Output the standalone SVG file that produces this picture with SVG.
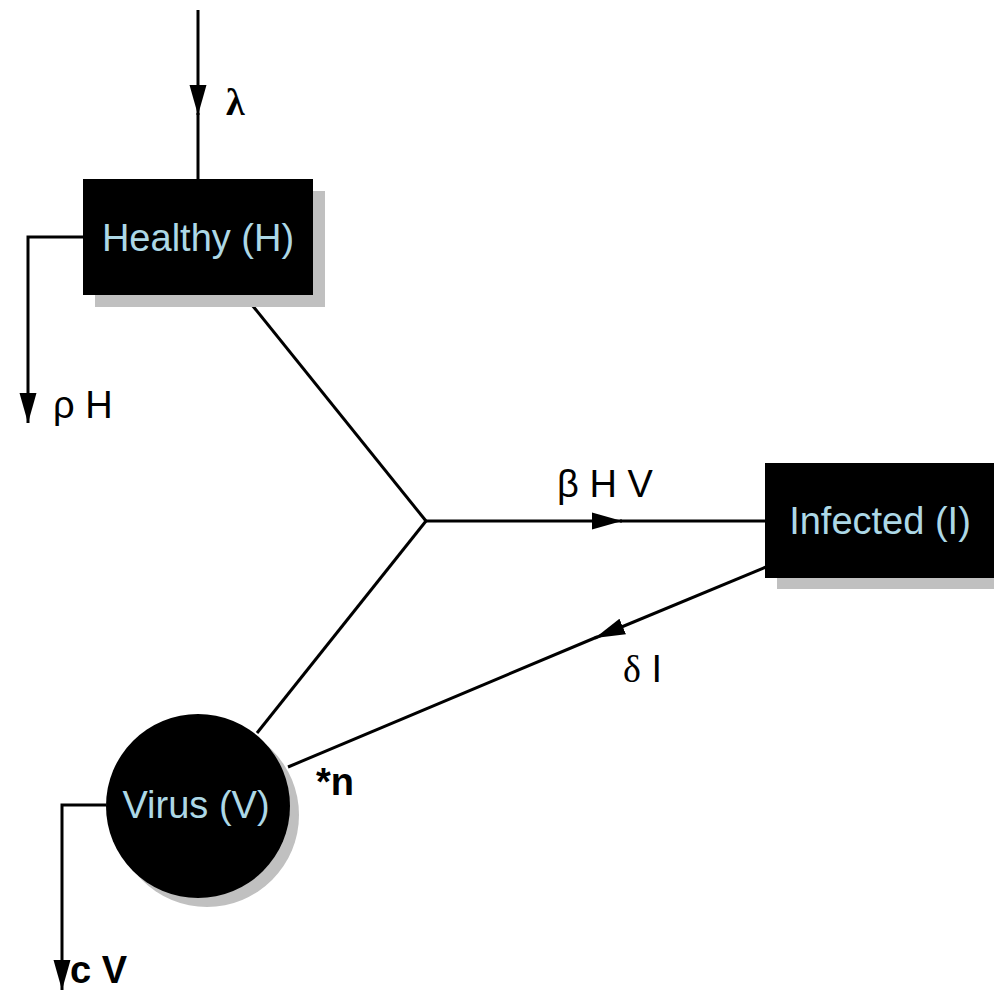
<svg xmlns="http://www.w3.org/2000/svg" width="994" height="990" viewBox="0 0 994 990">
<style>
.ln{fill:none;stroke:#000;stroke-width:3}
.box{fill:#000}
.sh{fill:#c0c0c0}
.nl{font-family:"Liberation Sans",Arial,sans-serif;font-size:38px;fill:#add8e6;text-anchor:middle}
.lb{font-family:"Liberation Sans",Arial,sans-serif;font-size:38px;fill:#000}
.gr{font-family:"Liberation Serif","Times New Roman",serif}
</style>
<defs>
<marker id="ah" markerUnits="userSpaceOnUse" markerWidth="32" markerHeight="20" refX="30" refY="9" orient="auto">
<path d="M0,0.5 L30,9 L0,17.5 Z" fill="#000"/>
</marker>
</defs>
<g id="connectors">
<line class="ln" x1="198" y1="10" x2="198" y2="115" marker-end="url(#ah)"/>
<line class="ln" x1="198" y1="113" x2="198" y2="180"/>
<path class="ln" d="M84,237 H28 V423" marker-end="url(#ah)"/>
<line class="ln" x1="252" y1="305" x2="426" y2="521"/>
<line class="ln" x1="426" y1="521" x2="257" y2="733"/>
<line class="ln" x1="425" y1="521" x2="622" y2="521" marker-end="url(#ah)"/>
<line class="ln" x1="620" y1="521" x2="766" y2="521"/>
<line class="ln" x1="766" y1="567" x2="595" y2="638" marker-end="url(#ah)"/>
<line class="ln" x1="597" y1="637" x2="288" y2="767"/>
<path class="ln" d="M106,805 H62 V990" marker-end="url(#ah)"/>
</g>
<g id="healthy">
<rect class="sh" x="95" y="191" width="230" height="116"/>
<rect class="box" x="83" y="179" width="230" height="116"/>
<text class="nl" x="198" y="251">Healthy (H)</text>
</g>
<g id="infected">
<rect class="sh" x="777" y="474" width="230" height="115"/>
<rect class="box" x="765" y="463" width="230" height="115"/>
<text class="nl" x="880" y="534">Infected (I)</text>
</g>
<g id="virus">
<circle class="sh" cx="207" cy="815" r="92"/>
<circle class="box" cx="198" cy="806" r="92"/>
<text class="nl" x="196" y="818">Virus (V)</text>
</g>
<g id="labels">
<text class="lb gr" x="226" y="115" font-size="34" font-weight="bold">λ</text>
<text class="lb" x="53" y="418">ρ H</text>
<text class="lb" x="557" y="497">β H V</text>
<text class="lb" x="623" y="682"><tspan class="gr">δ</tspan> I</text>
<text class="lb" x="316" y="795" font-weight="bold">*n</text>
<text class="lb" x="70" y="983" font-weight="bold">c V</text>
</g>
</svg>
